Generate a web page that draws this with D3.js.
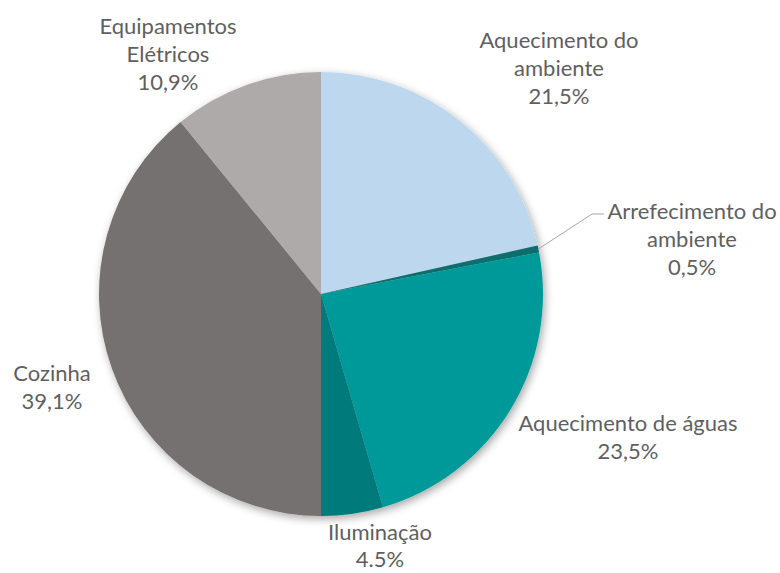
<!DOCTYPE html>
<html>
<head>
<meta charset="utf-8">
<script src="https://cdn.jsdelivr.net/npm/d3@7"></script>
<style>
    body { margin: 0; background: #fff; }
    svg { display: block; }
    text { font-family: Lato, "Open Sans", sans-serif; fill: #5f5f5f; }
</style>
</head>
<body>
<div id="chart"></div>
<script>
const categories = ["Aquecimento do ambiente", "Arrefecimento do ambiente", "Aquecimento de águas", "Iluminação", "Cozinha", "Equipamentos Elétricos"];
const values = [21.5, 0.5, 23.5, 4.5, 39.1, 10.9];
const colors = ["#BDD7EE", "#0F6E6E", "#009999", "#007A7A", "#767171", "#AEAAAA"];
// label text lines as in the picture
const labelLines = [
    ["Aquecimento do", "ambiente", "21,5%"],
    ["Arrefecimento do", "ambiente", "0,5%"],
    ["Aquecimento de águas", "23,5%"],
    ["Iluminação", "4.5%"],
    ["Cozinha", "39,1%"],
    ["Equipamentos", "Elétricos", "10,9%"]
];
const labelPos = [[559, 40], [692, 211], [628, 423], [380, 532], [52, 373], [168, 26]];

const width = 780, height = 573;
const cx = 321, cy = 294, radius = 222;

const svg = d3.select("#chart").append("svg")
    .attr("width", width)
    .attr("height", height);

const defs = svg.append("defs");
const filter = defs.append("filter")
    .attr("id", "shadow")
    .attr("x", "-10%").attr("y", "-10%")
    .attr("width", "120%").attr("height", "120%");
filter.append("feDropShadow")
    .attr("dx", 2).attr("dy", 3)
    .attr("stdDeviation", 4)
    .attr("flood-color", "#000")
    .attr("flood-opacity", 0.35);

const data = categories.map((c, i) => ({ name: c, value: values[i], color: colors[i], lines: labelLines[i], pos: labelPos[i] }));

const pie = d3.pie().value(d => d.value).sort(null);
const arc = d3.arc().innerRadius(0).outerRadius(radius);
const arcs = pie(data);

const g = svg.append("g").attr("transform", `translate(${cx},${cy})`);

g.append("g")
    .attr("filter", "url(#shadow)")
    .selectAll("path")
    .data(arcs)
    .join("path")
    .attr("d", arc)
    .attr("fill", d => d.data.color);

// leader line for the tiny slice
const small = arcs[1];
const mid = (small.startAngle + small.endAngle) / 2;
const p0 = [Math.sin(mid) * radius, -Math.cos(mid) * radius];
svg.append("polyline")
    .attr("points", [[cx + p0[0], cy + p0[1]], [592, 214], [604, 214]].map(p => p.join(",")).join(" "))
    .attr("fill", "none")
    .attr("stroke", "#A6A6A6")
    .attr("stroke-width", 1);

const labels = svg.append("g")
    .selectAll("text")
    .data(data)
    .join("text")
    .attr("text-anchor", "middle")
    .attr("font-size", 22);

labels.selectAll("tspan")
    .data(d => d.lines.map((l, i) => ({ text: l, x: d.pos[0], y: d.pos[1] + i * (d.pos[1] > 500 ? 27 : 28) })))
    .join("tspan")
    .attr("x", d => d.x)
    .attr("y", d => d.y)
    .attr("dy", "0.35em")
    .text(d => d.text);
</script>
</body>
</html>
